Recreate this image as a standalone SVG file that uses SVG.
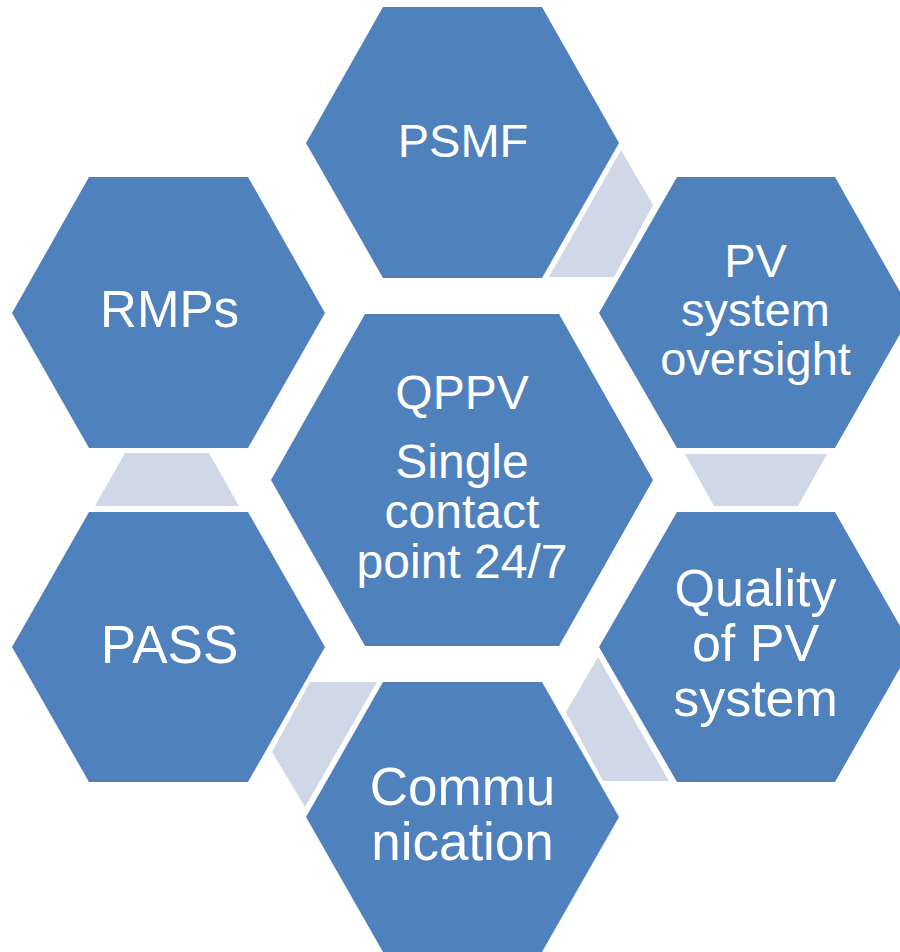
<svg xmlns="http://www.w3.org/2000/svg" width="900" height="952" viewBox="0 0 900 952">
<style>
.hex{fill:#4F81BD}
.con{fill:#D0D8E8}
text{font-family:"Liberation Sans",Arial,sans-serif;fill:#FFFFFF;text-anchor:middle}
</style>
<rect width="900" height="952" fill="#FFFFFF"/>
<g id="connectors">
<polygon class="con" points="621,150 653,205 614,277 549,277"/>
<polygon class="con" points="685,454 827,454 798,506 714,506"/>
<polygon class="con" points="598,657 566,712 603,781 669,781"/>
<polygon class="con" points="310,682 377,682 305,807 272,752"/>
<polygon class="con" points="125,453 209,453 239,506 95,506"/>
</g>
<g id="node-psmf">
<polygon class="hex" points="306,143 383,7 542,7 619,143 542,278 383,278"/>
<text x="463" y="157" font-size="47">PSMF</text>
</g>
<g id="node-pv-oversight">
<polygon class="hex" points="599,313 677,177 835,177 912,313 835,448 677,448"/>
<text x="755.5" font-size="47"><tspan x="755.5" y="277">PV</tspan><tspan x="755.5" y="326">system</tspan><tspan x="755.5" y="375">oversight</tspan></text>
</g>
<g id="node-quality">
<polygon class="hex" points="599,647 677,512 835,512 912,647 835,782 677,782"/>
<text x="755.5" font-size="52"><tspan x="755.5" y="606">Quality</tspan><tspan x="755.5" y="661">of PV</tspan><tspan x="755.5" y="716">system</tspan></text>
</g>
<g id="node-communication">
<polygon class="hex" points="306,817 383,682 542,682 619,817 542,952 383,952"/>
<text x="462.5" font-size="53"><tspan x="462.5" y="805">Commu</tspan><tspan x="462.5" y="860">nication</tspan></text>
</g>
<g id="node-pass">
<polygon class="hex" points="12,647 89,512 248,512 325,647 248,782 89,782"/>
<text x="169.5" y="663" font-size="53">PASS</text>
</g>
<g id="node-rmps">
<polygon class="hex" points="12,313 89,177 248,177 325,313 248,448 89,448"/>
<text x="169.5" y="327" font-size="51">RMPs</text>
</g>
<g id="node-qppv">
<polygon class="hex" points="271,480 365,314 559,314 653,480 559,646 365,646"/>
<text x="462" font-size="48"><tspan x="462" y="409">QPPV</tspan><tspan x="462" y="478">Single</tspan><tspan x="462" y="528">contact</tspan><tspan x="462" y="578">point 24/7</tspan></text>
</g>
</svg>
